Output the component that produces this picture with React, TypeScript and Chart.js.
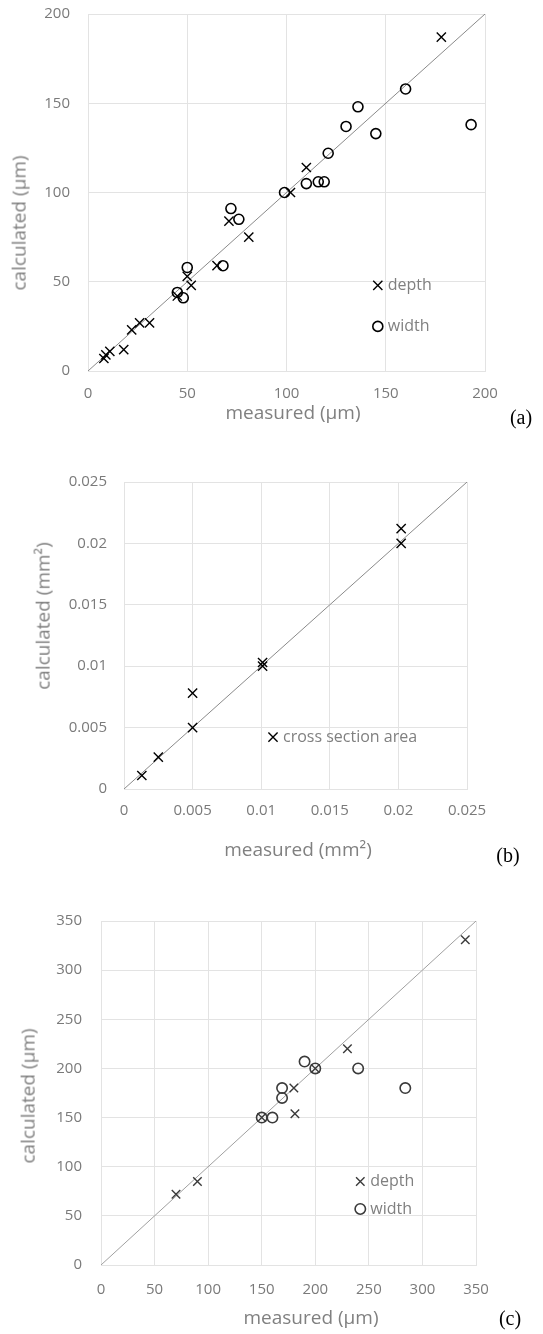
import React, { useEffect, useRef } from "react";
import { Chart, registerables } from "chart.js";

Chart.register(...registerables);

// ---------- data ----------
// (a) depth / width, µm
const A_TICKS = [0, 50, 100, 150, 200];
const A_DEPTH_X = [178, 110, 102, 71, 81, 65, 50, 52, 45, 26, 31, 22, 18, 11, 9, 8];
const A_DEPTH_Y = [187, 114, 100, 84, 75, 59, 53, 48, 42, 27, 27, 23, 12, 11, 9, 7];
const A_WIDTH_X = [160, 136, 130, 145, 193, 121, 110, 116, 119, 99, 72, 76, 50, 68, 45, 48];
const A_WIDTH_Y = [158, 148, 137, 133, 138, 122, 105, 106, 106, 100, 91, 85, 58, 59, 44, 41];
const A_LINE = [0, 200];

// (b) cross section area, mm²
const B_TICKS = [0, 0.005, 0.01, 0.015, 0.02, 0.025];
const B_AREA_X = [0.0202, 0.0202, 0.0101, 0.0101, 0.005, 0.005, 0.0025, 0.0013];
const B_AREA_Y = [0.0212, 0.02, 0.0103, 0.01, 0.0078, 0.005, 0.0026, 0.0011];
const B_LINE = [0, 0.025];

// (c) depth / width, µm
const C_TICKS = [0, 50, 100, 150, 200, 250, 300, 350];
const C_DEPTH_X = [340, 230, 200, 180, 181, 150, 90, 70];
const C_DEPTH_Y = [331, 220, 200, 180, 154, 150, 85, 72];
const C_WIDTH_X = [240, 190, 200, 284, 169, 169, 150, 160];
const C_WIDTH_Y = [200, 207, 200, 180, 180, 170, 150, 150];
const C_LINE = [0, 350];

// ---------- helpers ----------
type Pt = { x: number; y: number };
const zip = (xs: number[], ys: number[]): Pt[] => xs.map((x, i) => ({ x, y: ys[i] }));

const FONT = "'Open Sans', 'Noto Sans', sans-serif";
const TICK_COLOR = "#7a7a7a";
const TITLE_COLOR = "#808080";

const inlineLegend = {
  id: "inlineLegend",
  afterDatasetsDraw(chart: any, _args: any, opts: any) {
    const items = opts.items || [];
    const { ctx } = chart;
    const xs = chart.scales.x;
    const ys = chart.scales.y;
    ctx.save();
    for (const it of items) {
      const px = xs.getPixelForValue(it.x);
      const py = ys.getPixelForValue(it.y);
      ctx.strokeStyle = opts.markerColor;
      ctx.lineWidth = it.lineWidth;
      ctx.beginPath();
      if (it.style === "circle") {
        ctx.arc(px, py, it.radius, 0, Math.PI * 2);
      } else {
        const d = it.radius * Math.SQRT1_2;
        ctx.moveTo(px - d, py - d);
        ctx.lineTo(px + d, py + d);
        ctx.moveTo(px + d, py - d);
        ctx.lineTo(px - d, py + d);
      }
      ctx.stroke();
      ctx.fillStyle = opts.color;
      ctx.font = opts.font;
      ctx.textBaseline = "middle";
      ctx.textAlign = "left";
      ctx.fillText(it.text, px + opts.gap, py);
    }
    ctx.restore();
  },
};

const fmt = (v: any) => String(+Number(v).toFixed(4));

interface SeriesSpec {
  label: string;
  data: Pt[];
  style: string;
  radius: number;
  width: number;
}

interface PanelSpec {
  ticks: number[];
  line: number[];
  yAxisWidth: number;
  xAxisHeight: number;
  padTop: number;
  padRight: number;
  yTickPad: number;
  xTickPad: number;
  series: SeriesSpec[];
  markerColor: string;
  lineColor: string;
  gridColor: string;
  legend: any[];
}

function buildConfig(p: PanelSpec): any {
  const min = p.ticks[0];
  const max = p.ticks[p.ticks.length - 1];
  const tickFont = { family: FONT, size: 15 };
  const setTicks = (s: any) => {
    s.ticks = p.ticks.map((v) => ({ value: v }));
  };
  return {
    type: "scatter",
    data: {
      datasets: [
        ...p.series.map((s, i) => ({
          label: s.label,
          data: s.data,
          pointStyle: s.style,
          pointRadius: s.radius,
          pointHoverRadius: s.radius,
          pointBorderWidth: s.width,
          borderColor: p.markerColor,
          backgroundColor: "rgba(0,0,0,0)",
          showLine: false,
          order: i + 1,
        })),
        {
          label: "y = x",
          data: zip(p.line, p.line),
          showLine: true,
          borderColor: p.lineColor,
          borderWidth: 1,
          pointRadius: 0,
          fill: false,
          order: 10,
        },
      ],
    },
    options: {
      responsive: false,
      animation: false,
      events: [],
      layout: { padding: { top: p.padTop, right: p.padRight, left: 0, bottom: 0 } },
      plugins: {
        legend: { display: false },
        tooltip: { enabled: false },
        inlineLegend: {
          items: p.legend,
          markerColor: p.markerColor,
          color: TITLE_COLOR,
          font: `16px ${FONT}`,
          gap: 10,
        },
      },
      scales: {
        x: {
          type: "linear",
          min,
          max,
          afterBuildTicks: setTicks,
          afterFit: (s: any) => {
            s.height = p.xAxisHeight;
            s.paddingLeft = 0;
            s.paddingRight = 0;
          },
          ticks: { padding: p.xTickPad, font: tickFont, color: TICK_COLOR, callback: fmt, maxRotation: 0 },
          grid: { color: p.gridColor, drawTicks: false, tickLength: 0 },
          border: { color: p.gridColor },
        },
        y: {
          type: "linear",
          min,
          max,
          afterBuildTicks: setTicks,
          afterFit: (s: any) => {
            s.width = p.yAxisWidth;
            s.paddingTop = 0;
            s.paddingBottom = 0;
          },
          ticks: { padding: p.yTickPad, font: tickFont, color: TICK_COLOR, callback: fmt },
          grid: { color: p.gridColor, drawTicks: false, tickLength: 0 },
          border: { color: p.gridColor },
        },
      },
    },
    plugins: [inlineLegend],
  };
}

const PANEL_A: PanelSpec = {
  ticks: A_TICKS,
  line: A_LINE,
  yAxisWidth: 88,
  xAxisHeight: 69,
  padTop: 14,
  padRight: 58,
  yTickPad: 18,
  xTickPad: 14,
  series: [
    { label: "depth", data: zip(A_DEPTH_X, A_DEPTH_Y), style: "crossRot", radius: 6.5, width: 1.4 },
    { label: "width", data: zip(A_WIDTH_X, A_WIDTH_Y), style: "circle", radius: 5, width: 1.6 },
  ],
  markerColor: "#000000",
  lineColor: "#8a8a8a",
  gridColor: "#e3e3e3",
  legend: [
    { x: 146, y: 48, style: "crossRot", radius: 6.5, lineWidth: 1.4, text: "depth" },
    { x: 146, y: 25, style: "circle", radius: 5, lineWidth: 1.6, text: "width" },
  ],
};

const PANEL_B: PanelSpec = {
  ticks: B_TICKS,
  line: B_LINE,
  yAxisWidth: 124,
  xAxisHeight: 71,
  padTop: 42,
  padRight: 76,
  yTickPad: 17,
  xTickPad: 13,
  series: [
    { label: "cross section area", data: zip(B_AREA_X, B_AREA_Y), style: "crossRot", radius: 6.5, width: 1.4 },
  ],
  markerColor: "#000000",
  lineColor: "#8a8a8a",
  gridColor: "#e3e3e3",
  legend: [{ x: 0.01086, y: 0.00422, style: "crossRot", radius: 6.5, lineWidth: 1.4, text: "cross section area" }],
};

const PANEL_C: PanelSpec = {
  ticks: C_TICKS,
  line: C_LINE,
  yAxisWidth: 101,
  xAxisHeight: 69,
  padTop: 61,
  padRight: 67,
  yTickPad: 19,
  xTickPad: 16,
  series: [
    { label: "depth", data: zip(C_DEPTH_X, C_DEPTH_Y), style: "crossRot", radius: 6, width: 1.4 },
    { label: "width", data: zip(C_WIDTH_X, C_WIDTH_Y), style: "circle", radius: 5.2, width: 1.6 },
  ],
  markerColor: "#3a3a3a",
  lineColor: "#a0a0a0",
  gridColor: "#e3e3e3",
  legend: [
    { x: 242, y: 85, style: "crossRot", radius: 6, lineWidth: 1.4, text: "depth" },
    { x: 242, y: 57, style: "circle", radius: 5.2, lineWidth: 1.6, text: "width" },
  ],
};

function ChartCanvas({ top, height, spec }: { top: number; height: number; spec: PanelSpec }) {
  const ref = useRef<HTMLCanvasElement | null>(null);
  useEffect(() => {
    if (!ref.current) return;
    const chart = new Chart(ref.current, buildConfig(spec));
    return () => chart.destroy();
  }, [spec]);
  return (
    <canvas
      ref={ref}
      width={543}
      height={height}
      style={{ position: "absolute", left: 0, top, width: 543, height }}
    />
  );
}

function Label({
  x,
  y,
  text,
  rotate,
  serif,
  size,
  color,
}: {
  x: number;
  y: number;
  text: React.ReactNode;
  rotate?: boolean;
  serif?: boolean;
  size: number;
  color: string;
}) {
  return (
    <div
      style={{
        position: "absolute",
        left: x,
        top: y,
        transform: `translate(-50%, -50%)${rotate ? " rotate(-90deg)" : ""}`,
        whiteSpace: "nowrap",
        fontFamily: serif ? "'Liberation Serif', 'DejaVu Serif', serif" : FONT,
        fontSize: size,
        color,
        lineHeight: 1.2,
      }}
    >
      {text}
    </div>
  );
}

export default function App() {
  return (
    <div style={{ position: "absolute", left: 0, top: 0, width: 543, height: 1334, background: "#fff", overflow: "hidden" }}>
      <ChartCanvas top={0} height={440} spec={PANEL_A} />
      <ChartCanvas top={440} height={420} spec={PANEL_B} />
      <ChartCanvas top={860} height={474} spec={PANEL_C} />

      <Label x={293} y={412} text="measured (μm)" size={19} color={TITLE_COLOR} />
      <Label x={19} y={223} text="calculated (μm)" rotate size={19} color={TITLE_COLOR} />
      <Label x={521} y={417} text="(a)" serif size={20} color="#000" />

      <Label x={298} y={849} text="measured (mm²)" size={19} color={TITLE_COLOR} />
      <Label x={43} y={616} text="calculated (mm²)" rotate size={19} color={TITLE_COLOR} />
      <Label x={508} y={855} text="(b)" serif size={20} color="#000" />

      <Label x={311} y={1317} text="measured (μm)" size={19} color={TITLE_COLOR} />
      <Label x={28} y={1096} text="calculated (μm)" rotate size={19} color={TITLE_COLOR} />
      <Label x={510} y={1318} text="(c)" serif size={20} color="#000" />
    </div>
  );
}
